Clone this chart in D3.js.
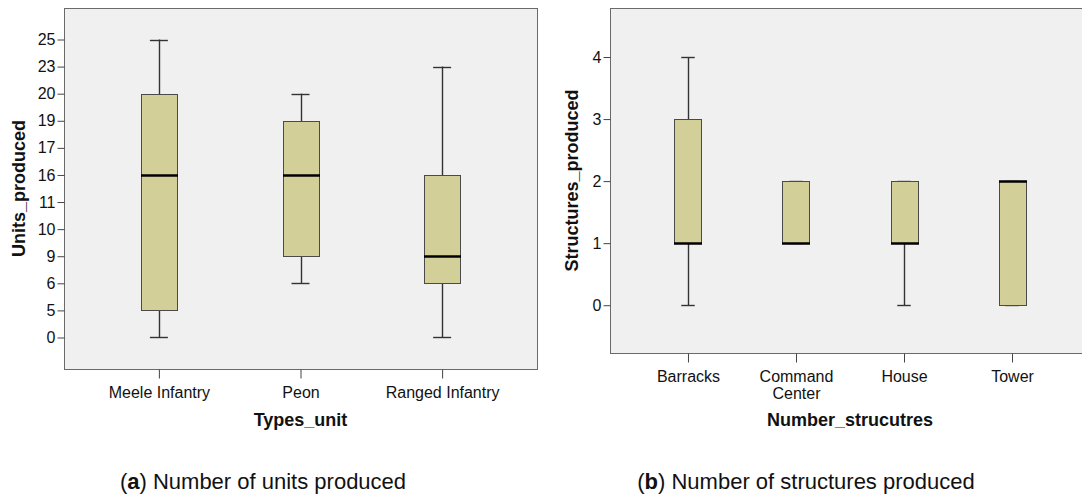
<!DOCTYPE html>
<html>
<head>
<meta charset="utf-8">
<script src="https://cdn.jsdelivr.net/npm/d3@7"></script>
<style>
  body { margin: 0; background: #fff; }
  svg { display: block; font-family: "Liberation Sans", Arial, sans-serif; }
  .tick text { font-size: 16px; fill: #111; }
  .tick line { stroke: #444; }
  .title { font-size: 18px; font-weight: bold; fill: #111; }
  .caption { font-size: 22px; fill: #111; }
</style>
</head>
<body>
<svg id="chart" width="1082" height="501"></svg>
<script>
// (a) units produced - the y axis is ordinal in the original (SPSS treated values as categories)
var unitTypes = ["Meele Infantry", "Peon", "Ranged Infantry"];
var unitTicks = ["0", "5", "6", "9", "10", "11", "16", "17", "19", "20", "23", "25"];
var unitMin = ["0", "6", "0"];
var unitQ1 = ["5", "9", "6"];
var unitMedian = ["16", "16", "9"];
var unitQ3 = ["20", "19", "16"];
var unitMax = ["25", "20", "23"];

// (b) structures produced
var structTypes = ["Barracks", "Command Center", "House", "Tower"];
var structTicks = [0, 1, 2, 3, 4];
var structMin = [0, 1, 0, 0];
var structQ1 = [1, 1, 1, 0];
var structMedian = [1, 1, 1, 2];
var structQ3 = [3, 2, 2, 2];
var structMax = [4, 2, 2, 2];

var boxFill = "#d3cf98";
var frameFill = "#f0f0f0";

const svg = d3.select("#chart");

function drawPanel(opts) {
  const g = svg.append("g");
  const x = opts.x, y = opts.y;
  const [x0, x1] = x.range();
  const top = opts.top, bottom = opts.bottom;

  // plot frame
  g.append("rect")
    .attr("x", x0 + 0.5).attr("y", top + 0.5)
    .attr("width", x1 - x0).attr("height", bottom - top)
    .attr("fill", frameFill)
    .attr("stroke", "#6a6a6a");

  // axes
  const yAxis = g.append("g")
    .attr("transform", `translate(${x0 + 0.5},0)`)
    .call(d3.axisLeft(y).tickValues(opts.yTicks).tickSize(7).tickPadding(2)
      .tickFormat(opts.yFormat || null));
  yAxis.select(".domain").remove();

  const xAxis = g.append("g")
    .attr("transform", `translate(0,${bottom + 0.5})`)
    .call(d3.axisBottom(x).tickSize(9).tickPadding(8));
  xAxis.select(".domain").remove();
  xAxis.selectAll(".tick text").each(function(d) {
    const words = d.split(" ");
    if (words.length > 1 && opts.wrap) {
      const t = d3.select(this).text(null);
      words.forEach((w, i) => {
        t.append("tspan").attr("x", 0).attr("dy", i === 0 ? "0.71em" : "1.05em").text(w);
      });
      t.attr("dy", null);
    }
  });

  // boxes
  const bw = opts.boxWidth, cw = bw / 2;
  const boxes = g.selectAll(".box")
    .data(opts.cats.map((c, i) => ({
      cat: c, min: opts.min[i], q1: opts.q1[i], med: opts.median[i], q3: opts.q3[i], max: opts.max[i]
    })))
    .enter().append("g").attr("class", "box");

  const wStroke = "#333";
  boxes.append("line")
    .attr("x1", d => Math.round(x(d.cat)) + 0.5).attr("x2", d => Math.round(x(d.cat)) + 0.5)
    .attr("y1", d => y(d.max)).attr("y2", d => y(d.min))
    .attr("stroke", wStroke).attr("stroke-width", 1.4);
  boxes.append("line")
    .attr("x1", d => x(d.cat) - cw / 2).attr("x2", d => x(d.cat) + cw / 2)
    .attr("y1", d => Math.round(y(d.max)) + 0.5).attr("y2", d => Math.round(y(d.max)) + 0.5)
    .attr("stroke", wStroke).attr("stroke-width", 1.4);
  boxes.append("line")
    .attr("x1", d => x(d.cat) - cw / 2).attr("x2", d => x(d.cat) + cw / 2)
    .attr("y1", d => Math.round(y(d.min)) + 0.5).attr("y2", d => Math.round(y(d.min)) + 0.5)
    .attr("stroke", wStroke).attr("stroke-width", 1.4);
  boxes.append("rect")
    .attr("x", d => Math.round(x(d.cat) - bw / 2) + 0.5)
    .attr("y", d => Math.round(y(d.q3)) + 0.5)
    .attr("width", bw)
    .attr("height", d => Math.round(y(d.q1)) - Math.round(y(d.q3)))
    .attr("fill", boxFill)
    .attr("stroke", "#4a4a4a");
  boxes.append("line")
    .attr("x1", d => Math.round(x(d.cat) - bw / 2)).attr("x2", d => Math.round(x(d.cat) + bw / 2) + 1)
    .attr("y1", d => Math.round(y(d.med)) + 0.5).attr("y2", d => Math.round(y(d.med)) + 0.5)
    .attr("stroke", "#000").attr("stroke-width", 2.5);

  // axis titles
  g.append("text").attr("class", "title")
    .attr("x", (x0 + x1) / 2).attr("y", opts.xTitleY)
    .attr("text-anchor", "middle")
    .text(opts.xTitle);
  g.append("text").attr("class", "title")
    .attr("transform", `translate(${opts.yTitleX},${(top + bottom) / 2}) rotate(-90)`)
    .attr("text-anchor", "middle")
    .text(opts.yTitle);

  // caption below
  const cap = g.append("text").attr("class", "caption")
    .attr("x", opts.capX).attr("y", 489)
    .attr("text-anchor", "middle");
  cap.append("tspan").text("(");
  cap.append("tspan").attr("font-weight", "bold").text(opts.capTag);
  cap.append("tspan").text(") " + opts.caption);
}

drawPanel({
  cats: unitTypes,
  x: d3.scalePoint().domain(unitTypes).range([64, 537]).padding(0.67),
  y: d3.scalePoint().domain(unitTicks).range([369, 8]).padding(1.163),
  yTicks: unitTicks,
  top: 8, bottom: 369,
  min: unitMin, q1: unitQ1, median: unitMedian, q3: unitQ3, max: unitMax,
  boxWidth: 36,
  xTitle: "Types_unit", xTitleY: 426,
  yTitle: "Units_produced", yTitleX: 25,
  capX: 263, capTag: "a", caption: "Number of units produced",
  wrap: false
});

drawPanel({
  cats: structTypes,
  x: d3.scalePoint().domain(structTypes).range([610, 1090]).padding(0.722),
  y: d3.scaleLinear().domain([-0.77, 4.79]).range([353, 8]),
  yTicks: structTicks,
  yFormat: d3.format("d"),
  top: 8, bottom: 353,
  min: structMin, q1: structQ1, median: structMedian, q3: structQ3, max: structMax,
  boxWidth: 27,
  xTitle: "Number_strucutres", xTitleY: 426,
  yTitle: "Structures_produced", yTitleX: 578,
  capX: 806, capTag: "b", caption: "Number of structures produced",
  wrap: true
});
</script>
</body>
</html>
